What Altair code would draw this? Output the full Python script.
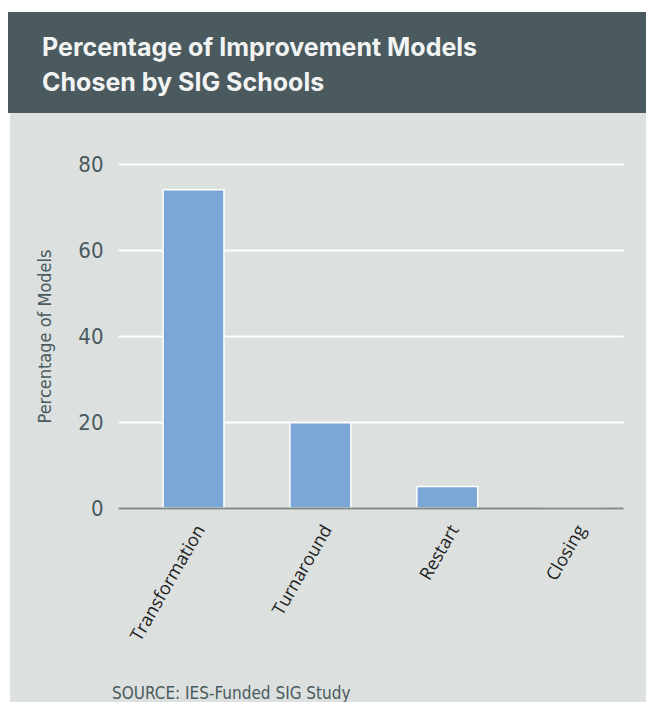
import altair as alt
import pandas as pd

categories = ["Transformation", "Turnaround", "Restart", "Closing"]
percentages = [74, 19.8, 5, 0]
y_ticks = [0, 20, 40, 60, 80]
title_lines = ["Percentage of Improvement Models", "Chosen by SIG Schools"]
source_note = "SOURCE: IES-Funded SIG Study"
y_title = "Percentage of Models"

df = pd.DataFrame({"model": categories, "pct": percentages})
one = pd.DataFrame({"k": [0]})

NARROW = "Liberation Sans Narrow, Arial Narrow, DejaVu Sans Condensed, Roboto Condensed, sans-serif"
SLATE = "#4a5a5e"

W, H = 505, 344
PL, PT = 110, 156
PR = 638 - PL - W
PB = 694 - PT - H

header = alt.Chart(one).mark_rect(color=SLATE).encode(
    x=alt.value(-120), x2=alt.value(560), y=alt.value(-152), y2=alt.value(-51)
)
top_strip = alt.Chart(one).mark_rect(color="white").encode(
    x=alt.value(-120), x2=alt.value(560), y=alt.value(-170), y2=alt.value(-152)
)
left_strip = alt.Chart(one).mark_rect(color="white").encode(
    x=alt.value(-120), x2=alt.value(-108), y=alt.value(-170), y2=alt.value(560)
)
title = alt.Chart(one).mark_text(
    text=title_lines, align="left", baseline="alphabetic", font="Inter",
    fontWeight="bold", fontSize=25, lineHeight=35, color="#f2f4f4"
).encode(x=alt.value(-76), y=alt.value(-108))

source = alt.Chart(one).mark_text(
    text=source_note, align="left", baseline="middle", font=NARROW,
    fontSize=17, color=SLATE
).encode(x=alt.value(-6), y=alt.value(530))

bars = alt.Chart(df).mark_bar(color="#7ba7d7", stroke="white", strokeWidth=1.5).encode(
    x=alt.X("model:N", sort=categories,
            scale=alt.Scale(paddingInner=0.52, paddingOuter=0.25, align=0.71),
            axis=alt.Axis(title=None, labelAngle=300, labelAlign="right", labelBaseline="top",
                          labelPadding=14, labelFont="Open Sans", labelFontSize=18,
                          labelColor="#1e1e1e", ticks=False, domainColor="#7d8986",
                          domainWidth=2, grid=False, zindex=1)),
    y=alt.Y("pct:Q", scale=alt.Scale(domain=[0, 80], nice=False),
            axis=alt.Axis(values=y_ticks, title=y_title, titleFont=NARROW, titleFontSize=18,
                          titleFontWeight="normal", titleColor=SLATE, titleAngle=270,
                          titleX=-73, titleY=H / 2, titleAlign="center", titleBaseline="middle",
                          labelFont=NARROW, labelFontSize=22, labelColor=SLATE, labelPadding=15,
                          ticks=False, domain=False, gridColor="white", gridWidth=2, zindex=0)),
)

chart = alt.layer(top_strip, left_strip, header, title, source, bars).properties(
    width=W, height=H,
    padding={"left": PL, "top": PT, "right": PR, "bottom": PB},
    autosize=alt.AutoSizeParams(type="none"),
    background="#dce1df",
).configure_view(stroke=None)

chart.save("out.html", embed_options={"renderer": "svg", "actions": False})
